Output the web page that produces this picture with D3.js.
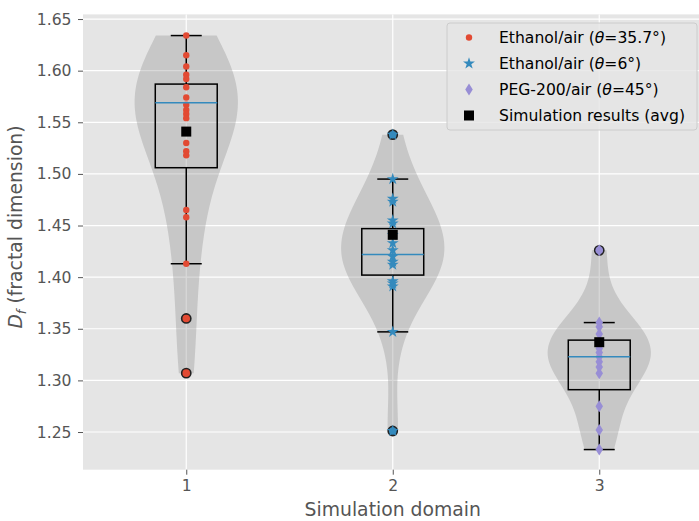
<!DOCTYPE html>
<html>
<head>
<meta charset="utf-8">
<script src="https://cdn.jsdelivr.net/npm/d3@7"></script>
<style>
  body { margin: 0; background: #fff; }
  svg { font-family: "DejaVu Sans", sans-serif; display: block; }
</style>
</head>
<body>
<div id="chart"></div>
<script>
// ---- data ----
var domains = [1, 2, 3];
var seriesFluids = ['Ethanol/air', 'Ethanol/air', 'PEG-200/air'];
var seriesAngles = ['35.7\u00b0', '6\u00b0', '45\u00b0'];
var ethanol357 = [1.634, 1.615, 1.604, 1.596, 1.592, 1.584, 1.574, 1.567, 1.562, 1.558, 1.554,
                  1.530, 1.522, 1.518, 1.465, 1.458, 1.413, 1.360, 1.307];
var ethanol6 = [1.538, 1.495, 1.476, 1.473, 1.455, 1.452, 1.441, 1.433, 1.426, 1.420, 1.415,
                1.412, 1.396, 1.394, 1.391, 1.347, 1.251];
var peg200 = [1.426, 1.356, 1.352, 1.345, 1.331, 1.327, 1.323, 1.318, 1.313, 1.307, 1.275, 1.252, 1.233];
var boxQ1 = [1.506, 1.402, 1.291];
var boxMedian = [1.569, 1.422, 1.323];
var boxQ3 = [1.587, 1.447, 1.339];
var whiskerLow = [1.413, 1.347, 1.233];
var whiskerHigh = [1.634, 1.495, 1.356];
var simAvg = [1.541, 1.441, 1.337];
var yTicks = [1.25, 1.30, 1.35, 1.40, 1.45, 1.50, 1.55, 1.60, 1.65];

var groups = [ethanol357, ethanol6, peg200];
var colors = ['#E24A33', '#348ABD', '#988ED5'];

var width = 699, height = 521;
var margin = {top: 14.4, left: 83, right: 702.5, bottom: 469.7};

var svg = d3.select('#chart').append('svg')
    .attr('width', width)
    .attr('height', height);

var x = d3.scaleLinear().domain([0.5, 3.5]).range([margin.left, margin.right]);
var y = d3.scaleLinear().domain([1.2135, 1.6545]).range([margin.bottom, margin.top]);

// axes background
svg.append('rect')
    .attr('x', margin.left).attr('y', margin.top)
    .attr('width', margin.right - margin.left)
    .attr('height', margin.bottom - margin.top)
    .attr('fill', '#E5E5E5');

// grid
var grid = svg.append('g');
grid.selectAll('.hg').data(yTicks).enter().append('line')
    .attr('x1', margin.left).attr('x2', margin.right)
    .attr('y1', function(d) { return y(d); }).attr('y2', function(d) { return y(d); })
    .attr('stroke', '#fff').attr('stroke-width', 1.2);
grid.selectAll('.vg').data(domains).enter().append('line')
    .attr('y1', margin.top).attr('y2', margin.bottom)
    .attr('x1', function(d) { return x(d); }).attr('x2', function(d) { return x(d); })
    .attr('stroke', '#fff').attr('stroke-width', 1.2);

// violins (gaussian kde, scott bandwidth, half width 0.25)
function kde(vals) {
    var n = vals.length;
    var sd = d3.deviation(vals);
    var bw = sd * Math.pow(n, -0.2);
    var lo = d3.min(vals), hi = d3.max(vals);
    var pts = d3.range(100).map(function(i) { return lo + (hi - lo) * i / 99; });
    var dens = pts.map(function(t) {
        return d3.sum(vals, function(v) { return Math.exp(-0.5 * Math.pow((t - v) / bw, 2)); });
    });
    var mx = d3.max(dens);
    return pts.map(function(t, i) { return {v: t, w: dens[i] / mx * 0.25}; });
}

groups.forEach(function(vals, i) {
    var pos = domains[i];
    var area = d3.area()
        .y(function(d) { return y(d.v); })
        .x0(function(d) { return x(pos - d.w); })
        .x1(function(d) { return x(pos + d.w); });
    svg.append('path')
        .datum(kde(vals))
        .attr('d', area)
        .attr('fill', '#808080')
        .attr('fill-opacity', 0.3);
});

// boxes
var boxW = 0.15, capW = 0.075;
var bp = svg.append('g').attr('stroke', '#000').attr('stroke-width', 1.5).attr('fill', 'none');
domains.forEach(function(pos, i) {
    bp.append('rect')
        .attr('x', x(pos - boxW)).attr('width', x(pos + boxW) - x(pos - boxW))
        .attr('y', y(boxQ3[i])).attr('height', y(boxQ1[i]) - y(boxQ3[i]));
    bp.append('line').attr('x1', x(pos)).attr('x2', x(pos))
        .attr('y1', y(boxQ3[i])).attr('y2', y(whiskerHigh[i]));
    bp.append('line').attr('x1', x(pos)).attr('x2', x(pos))
        .attr('y1', y(boxQ1[i])).attr('y2', y(whiskerLow[i]));
    [whiskerLow[i], whiskerHigh[i]].forEach(function(c) {
        bp.append('line').attr('x1', x(pos - capW)).attr('x2', x(pos + capW))
            .attr('y1', y(c)).attr('y2', y(c));
    });
    // fliers: points outside the whiskers
    groups[i].filter(function(v) { return v < whiskerLow[i] - 1e-4 || v > whiskerHigh[i] + 1e-4; })
        .forEach(function(v) {
            svg.append('circle')
                .attr('cx', x(pos)).attr('cy', y(v)).attr('r', 4.6)
                .attr('fill', colors[i]).attr('stroke', '#222').attr('stroke-width', 1.6);
        });
});

// points
function diamondPath(h, w) {
    return 'M0,' + (-h / 2) + 'L' + (w / 2) + ',0L0,' + (h / 2) + 'L' + (-w / 2) + ',0Z';
}
var starPath = d3.symbol().type(d3.symbolStar).size(44)();
var markers = [
    function(g) { return g.append('circle').attr('r', 3.2); },
    function(g) { return g.append('path').attr('d', starPath); },
    function(g) { return g.append('path').attr('d', diamondPath(12, 7.5)); }
];

groups.forEach(function(vals, i) {
    vals.forEach(function(v) {
        var g = svg.append('g').attr('transform', 'translate(' + x(domains[i]) + ',' + y(v) + ')');
        markers[i](g).attr('fill', colors[i]);
    });
});

// medians
domains.forEach(function(pos, i) {
    svg.append('line')
        .attr('x1', x(pos - boxW)).attr('x2', x(pos + boxW))
        .attr('y1', y(boxMedian[i])).attr('y2', y(boxMedian[i]))
        .attr('stroke', '#348ABD').attr('stroke-width', 1.5);
});

// simulation averages
svg.selectAll('.avg').data(simAvg).enter().append('rect')
    .attr('x', function(d, i) { return x(domains[i]) - 5; })
    .attr('y', function(d) { return y(d) - 5; })
    .attr('width', 10).attr('height', 10)
    .attr('fill', '#000');

// axes
var yAxis = svg.append('g')
    .attr('transform', 'translate(' + margin.left + ',0)')
    .call(d3.axisLeft(y).tickValues(yTicks).tickFormat(d3.format('.2f')).tickSize(5).tickPadding(6.5));
var xAxis = svg.append('g')
    .attr('transform', 'translate(0,' + margin.bottom + ')')
    .call(d3.axisBottom(x).tickValues(domains).tickFormat(d3.format('d')).tickSize(5).tickPadding(5.5));
[yAxis, xAxis].forEach(function(a) {
    a.select('.domain').remove();
    a.selectAll('line').attr('stroke', '#555555');
    a.selectAll('text').attr('fill', '#555555').style('font-size', '15.6px')
        .style('font-family', '"DejaVu Sans", sans-serif');
});

svg.append('text')
    .attr('x', (margin.left + margin.right) / 2).attr('y', 516)
    .attr('text-anchor', 'middle')
    .attr('fill', '#555555').style('font-size', '18.8px')
    .text('Simulation domain');

var yl = svg.append('text')
    .attr('transform', 'translate(22,227) rotate(-90)')
    .attr('text-anchor', 'middle')
    .attr('fill', '#555555').style('font-size', '18.8px');
yl.append('tspan').style('font-style', 'italic').text('D');
yl.append('tspan').style('font-style', 'italic').style('font-size', '13px').attr('dy', 4).text('f');
yl.append('tspan').attr('dy', -4).text(' (fractal dimension)');

// legend
var legend = svg.append('g');
legend.append('rect')
    .attr('x', 447).attr('y', 23).attr('width', 250).attr('height', 107).attr('rx', 3)
    .attr('fill', '#E5E5E5').attr('fill-opacity', 0.8)
    .attr('stroke', '#cccccc');
for (var i = 0; i < 4; i++) {
    var cy = 37.5 + i * 26;
    var g = legend.append('g').attr('transform', 'translate(469,' + cy + ')');
    var t = legend.append('text')
        .attr('x', 499).attr('y', cy).attr('dy', '0.36em')
        .style('font-size', '15.6px').attr('fill', '#000');
    if (i < 3) {
        markers[i](g).attr('fill', colors[i]);
        t.append('tspan').text(seriesFluids[i] + ' (');
        t.append('tspan').style('font-style', 'italic').text('\u03b8');
        t.append('tspan').text('=' + seriesAngles[i] + ')');
    } else {
        g.append('rect').attr('x', -5).attr('y', -5).attr('width', 10).attr('height', 10).attr('fill', '#000');
        t.text('Simulation results (avg)');
    }
}
</script>
</body>
</html>
